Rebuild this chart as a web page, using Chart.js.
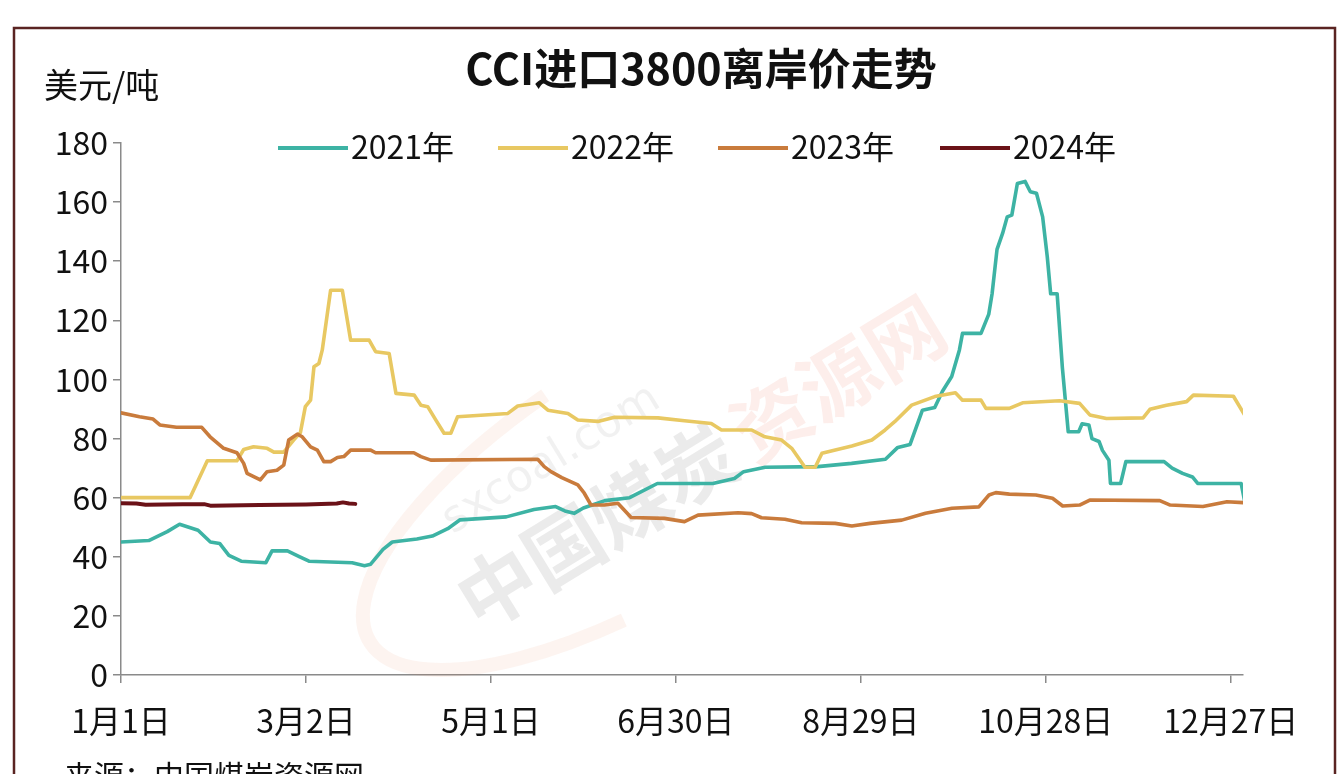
<!DOCTYPE html>
<html>
<head>
<meta charset="utf-8">
<script src="https://cdn.jsdelivr.net/npm/chart.js@4.4.1/dist/chart.umd.min.js"></script>
<style>
  html, body { margin: 0; padding: 0; background: #ffffff; }
  #wrap { width: 1342px; height: 774px; position: relative; }
  canvas { display: block; }
</style>
</head>
<body>
<div id="wrap"><canvas id="c" width="1342" height="774"></canvas></div>
<script>
// ---------- Data (day of year from Jan 1, value in USD/t) ----------
const titleText = "CCI进口3800离岸价走势";
const unitText = "美元/吨";
const sourceText = "来源：中国煤炭资源网";
const seriesNames = ["2021年", "2022年", "2023年", "2024年"];
const seriesColors = ["#3db3a4", "#e8c862", "#c97b3c", "#6b1218"];

const xTickDays = [0, 60, 120, 180, 240, 300, 360];
const xTickLabels = ["1月1日", "3月2日", "5月1日", "6月30日", "8月29日", "10月28日", "12月27日"];
const yTicks = [0, 20, 40, 60, 80, 100, 120, 140, 160, 180];

const days2021 = [0, 9, 15, 19, 22, 25, 29, 32, 35, 39, 47, 49, 54, 58, 61, 75, 79, 81, 85, 88, 96, 101, 106, 110, 125, 134, 141, 144, 147, 150, 157, 165, 174, 192, 199, 202, 209, 226, 237, 248, 252, 256, 260, 264, 266.5, 269.5, 272, 273, 279, 281.5, 282.6, 284.2, 286, 287.5, 289, 290.8, 293.3, 295, 297, 299, 300.5, 301.6, 303.7, 305.4, 307.3, 310.7, 311.8, 314, 315, 317.3, 318.4, 320.5, 321, 324.3, 326, 338.4, 341, 344.4, 347.6, 349.3, 363.4, 364.5];
const vals2021 = [45, 45.5, 48.5, 51, 50, 49, 45, 44.5, 40.5, 38.5, 38, 42, 42, 40, 38.5, 38, 37, 37.5, 42.5, 45, 46, 47, 49.5, 52.5, 53.5, 56, 57, 55.5, 54.7, 56.5, 59, 60, 64.8, 64.8, 66.5, 68.8, 70.3, 70.5, 71.6, 73, 77, 78, 89.6, 90.5, 96, 101, 110, 115.6, 115.6, 122, 129, 144, 149.4, 155, 155.6, 166.3, 167, 163.5, 163, 155, 141.5, 129, 129, 104, 82.3, 82.3, 85, 84.6, 80, 79, 76, 72.7, 64.8, 64.8, 72.2, 72.2, 70, 68.2, 67, 64.8, 64.8, 59];

const days2022 = [0, 22.4, 28, 37.6, 39.8, 43, 47.4, 49.6, 52.8, 56, 58.2, 59.8, 61.5, 62.6, 64.2, 65.3, 68, 71.8, 74.5, 80.5, 82.6, 87, 89.2, 95.1, 97.3, 99.5, 102.1, 104.8, 107, 109.2, 125.5, 128.7, 135.7, 138.5, 145, 148.2, 154.7, 160.1, 174.2, 182.8, 191.5, 194.8, 204.6, 208.9, 214.3, 217.6, 221.9, 225.2, 227.4, 237.1, 243.6, 247.9, 251, 256.5, 264, 270.7, 273, 279, 280.6, 288.2, 292.5, 304.5, 311, 314.3, 319.7, 331.6, 333.8, 339.2, 345.7, 347.9, 360.9, 364.5];
const vals2022 = [60, 60, 72.5, 72.5, 76.3, 77.2, 76.7, 75.4, 75.4, 79.5, 82, 90.8, 93, 104.3, 105.4, 110, 130.2, 130.2, 113.3, 113.3, 109.4, 108.8, 95.3, 94.7, 91.3, 90.8, 86.3, 81.8, 81.8, 87.4, 88.5, 91, 92.1, 89.6, 88.5, 86.3, 85.8, 87.2, 87, 86, 85.1, 82.9, 82.9, 80.6, 79.5, 76.7, 70.3, 70.3, 75, 77.5, 79.5, 82.9, 85.7, 91.3, 94.2, 95.5, 93, 93, 90.2, 90.2, 92.1, 92.8, 91.9, 88, 86.8, 87, 89.9, 91.3, 92.5, 94.7, 94.3, 88];

const days2023 = [0, 6, 10.4, 12.6, 18, 26.2, 28.9, 33.3, 37.6, 39.8, 40.9, 45.2, 47.4, 50.6, 52.8, 54.4, 57.2, 58.8, 61.5, 63.7, 65.8, 68, 70.2, 72.3, 74.5, 81, 82.6, 95, 97.3, 100.5, 135.2, 137.3, 139.5, 143, 148.2, 150.3, 152.5, 156.8, 161.2, 165.5, 176.3, 182.8, 187.2, 200.2, 204.6, 207.8, 215.4, 220.8, 231.7, 237.1, 243, 253.3, 261, 269.6, 278.3, 281.6, 283.8, 288.2, 296.8, 302.2, 305.5, 311, 314.3, 337, 340.4, 351, 358.8, 364.5];
const vals2023 = [88.7, 87.4, 86.6, 84.6, 83.8, 83.8, 80.6, 76.7, 75.2, 71.6, 68.2, 66, 68.8, 69.3, 71, 79.5, 81.5, 80.6, 77.2, 76.1, 72.2, 72.2, 73.6, 73.9, 76.1, 76.1, 75.2, 75.2, 73.9, 72.7, 73, 70.5, 68.8, 66.8, 64.3, 61.5, 57.5, 57.5, 58.1, 53.3, 53, 51.9, 54.1, 54.9, 54.6, 53.2, 52.7, 51.5, 51.3, 50.4, 51.3, 52.4, 54.7, 56.4, 56.9, 60.9, 61.7, 61.2, 60.9, 59.8, 57.2, 57.5, 59.2, 59, 57.5, 57, 58.6, 58.3];

const days2024 = [0, 5, 8, 20, 27, 29, 45, 60, 70, 72, 74, 76];
const vals2024 = [58.1, 58, 57.6, 57.8, 57.8, 57.3, 57.5, 57.7, 58, 58.4, 58, 57.9];

// ---------- Build datasets ----------
function toPoints(days, vals) { return days.map((d, i) => ({ x: d, y: vals[i] })); }
const allDays = [days2021, days2022, days2023, days2024];
const allVals = [vals2021, vals2022, vals2023, vals2024];
const datasets = seriesNames.map((name, i) => ({
  label: name,
  data: toPoints(allDays[i], allVals[i]),
  borderColor: seriesColors[i],
  backgroundColor: seriesColors[i],
  borderWidth: i === 3 ? 4 : 3.6,
  pointRadius: 0,
  tension: 0,
  borderJoinStyle: 'round',
  borderCapStyle: 'round',
  fill: false,
  order: 4 - i
}));

const CJK = '"Noto Sans CJK SC", "Noto Sans", sans-serif';

const decorPlugin = {
  id: 'decor',
  beforeDraw(chart) {
    const ctx = chart.ctx;
    ctx.save();
    ctx.fillStyle = '#ffffff';
    ctx.fillRect(0, 0, chart.width, chart.height);
    ctx.strokeStyle = '#5a2422';
    ctx.lineWidth = 2.5;
    ctx.strokeRect(14, 28, 1321, 790);
    ctx.restore();
  },
  beforeDatasetsDraw(chart) {
    // faint watermark
    const ctx = chart.ctx;
    ctx.save();
    ctx.translate(680, 440);
    ctx.rotate(-0.55);
    ctx.globalAlpha = 0.08;
    ctx.strokeStyle = '#e07040';
    ctx.lineWidth = 14;
    ctx.beginPath();
    ctx.ellipse(-40, 10, 330, 120, 0, 0.6 * Math.PI, 1.45 * Math.PI);
    ctx.stroke();
    ctx.globalAlpha = 0.13;
    ctx.fillStyle = '#666666';
    ctx.font = 'bold 78px ' + CJK;
    ctx.textAlign = 'right';
    ctx.textBaseline = 'middle';
    ctx.fillText('中国煤炭', 40, 30);
    ctx.globalAlpha = 0.10;
    ctx.fillStyle = '#e85a3a';
    ctx.textAlign = 'left';
    ctx.fillText('资源网', 50, 30);
    ctx.globalAlpha = 0.12;
    ctx.fillStyle = '#888888';
    ctx.font = '44px "DejaVu Sans", sans-serif';
    ctx.textAlign = 'center';
    ctx.fillText('sxcoal.com', -120, -50);
    ctx.restore();
  },
  afterDraw(chart) {
    const ctx = chart.ctx;
    ctx.save();
    ctx.fillStyle = '#111111';
    // title
    ctx.font = 'bold 43px ' + CJK;
    ctx.textAlign = 'center';
    ctx.textBaseline = 'middle';
    ctx.fillText(titleText, 701, 69);
    // unit
    ctx.font = '34px ' + CJK;
    ctx.textAlign = 'left';
    ctx.fillText(unitText, 44, 85);
    // legend
    const lx = [278, 498, 718, 940];
    ctx.font = '32px ' + CJK;
    ctx.textBaseline = 'middle';
    seriesNames.forEach((n, i) => {
      ctx.strokeStyle = seriesColors[i];
      ctx.lineWidth = 4;
      ctx.beginPath();
      ctx.moveTo(lx[i], 148);
      ctx.lineTo(lx[i] + 70, 148);
      ctx.stroke();
      ctx.fillStyle = '#111111';
      ctx.fillText(n, lx[i] + 73, 147);
    });
    // source (cut by bottom edge)
    ctx.font = '30px ' + CJK;
    ctx.textBaseline = 'top';
    ctx.fillText(sourceText, 64, 761);
    ctx.restore();
  }
};

new Chart(document.getElementById('c'), {
  type: 'line',
  data: { datasets },
  plugins: [decorPlugin],
  options: {
    responsive: false,
    animation: false,
    events: [],
    layout: { padding: { left: 20, right: 99, top: 143, bottom: 0 } },
    plugins: {
      legend: { display: false },
      title: { display: false },
      tooltip: { enabled: false }
    },
    scales: {
      x: {
        type: 'linear',
        min: 0,
        max: 364,
        afterFit(scale) { scale.height = 99; },
        afterBuildTicks(scale) { scale.ticks = xTickDays.map(v => ({ value: v })); },
        ticks: {
          autoSkip: false,
          maxRotation: 0,
          padding: 19,
          color: '#111111',
          font: { family: '"Noto Sans CJK SC", sans-serif', size: 32 },
          callback(value) {
            const idx = xTickDays.indexOf(value);
            return idx >= 0 ? xTickLabels[idx] : '';
          }
        },
        grid: { drawOnChartArea: false, drawTicks: true, tickLength: 8, color: '#8a8a8a', lineWidth: 1.5 },
        border: { display: true, color: '#8a8a8a', width: 1.5 }
      },
      y: {
        type: 'linear',
        min: 0,
        max: 180,
        afterFit(scale) { scale.width = 101; },
        afterBuildTicks(scale) { scale.ticks = yTicks.map(v => ({ value: v })); },
        ticks: {
          padding: 5,
          color: '#111111',
          font: { family: '"Noto Sans CJK SC", sans-serif', size: 32 }
        },
        grid: { drawOnChartArea: false, drawTicks: true, tickLength: 8, color: '#8a8a8a', lineWidth: 1.5 },
        border: { display: true, color: '#8a8a8a', width: 1.5 }
      }
    }
  }
});
</script>
</body>
</html>
